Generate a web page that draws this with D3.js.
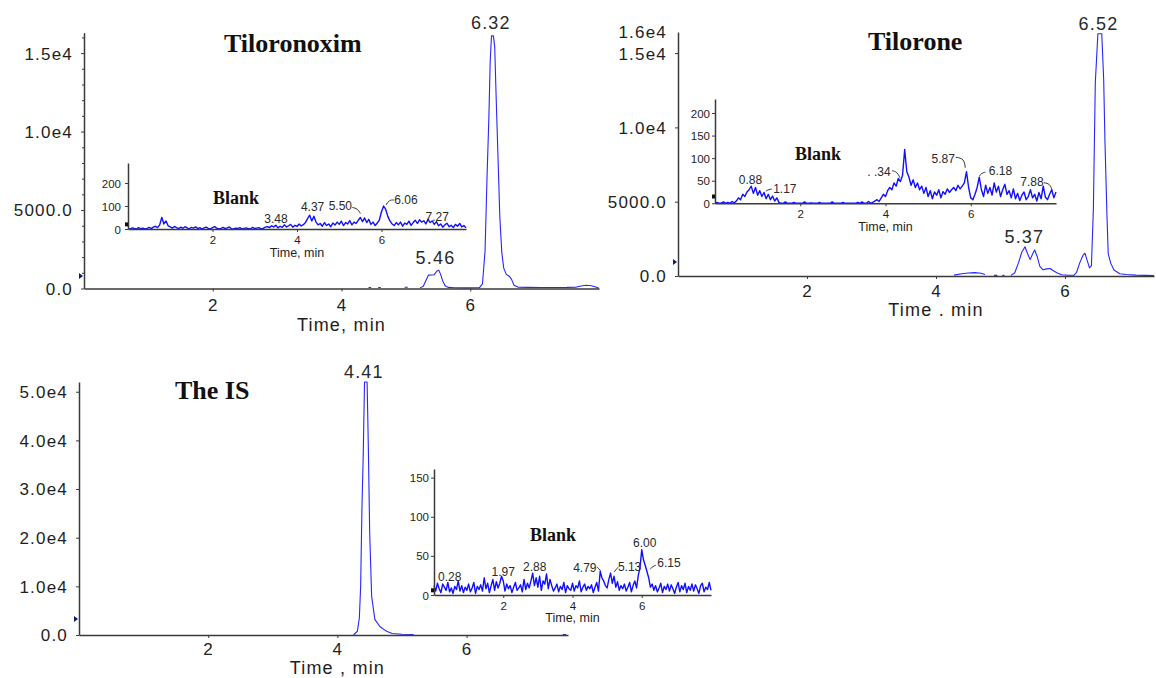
<!DOCTYPE html>
<html>
<head>
<meta charset="utf-8">
<script src="https://cdn.jsdelivr.net/npm/d3@7"></script>
<style>
  body { margin: 0; background: #fff; }
  svg { display: block; }
</style>
</head>
<body>
<svg id="chart" width="1156" height="678"></svg>
<script>
// ---- data ----

// Tiloronoxim, main trace (null = gap in the trace)
var tiloronoxTime = [4.42, 4.46, null, 4.57, 4.61, null, 4.98, 5.03, null,
  5.22, 5.27, 5.31, 5.35, 5.40, 5.44, 5.48, 5.51, 5.54, 5.57, 5.61, 5.66, 5.75, 5.85, 6.00,
  6.14, 6.19, 6.23, 6.26, 6.29, 6.31, 6.33, 6.36, 6.38, 6.40, 6.43, 6.46, 6.49, 6.52, 6.56,
  6.60, 6.64, 6.68, 6.74, 6.90, 7.10, 7.30, 7.50, 7.65, 7.72, 7.80, 7.88, 7.95, 8.00];
var tiloronoxSignal = [60, 60, null, 60, 60, null, 80, 80, null,
  40, 150, 500, 850, 860, 880, 1100, 1170, 900, 500, 180, 70, 50, 40, 40,
  45, 300, 2400, 7000, 11000, 14500, 16100, 16100, 15400, 12500, 8500, 4500, 2300, 1300, 900,
  800, 600, 200, 90, 70, 60, 65, 70, 90, 160, 210, 180, 90, 20];

// Tilorone, main trace
var tiloroneTime = [4.28, 4.40, 4.50, 4.60, 4.70, 4.76, null, 4.90, 4.95, null, 5.03, 5.06, null,
  5.16, 5.22, 5.28, 5.33, 5.38, 5.42, 5.46, 5.50, 5.53, 5.57, 5.61, 5.66, 5.72, 5.77, 5.82,
  5.88, 5.95, 6.05, 6.14, 6.18, 6.23, 6.28, 6.31, 6.34, 6.38, 6.41, 6.44, 6.47, 6.51, 6.57,
  6.60, 6.62, 6.65, 6.67, 6.71, 6.76, 6.85, 6.95, 7.10, 7.25, 7.38];
var tiloroneSignal = [60, 150, 200, 230, 180, 100, null, 40, 40, null, 40, 40, null,
  40, 200, 900, 1600, 1970, 1500, 1100, 1500, 1750, 1300, 650, 420, 480, 500, 350,
  200, 80, 50, 60, 250, 900, 1400, 1530, 1100, 550, 700, 4500, 13000, 16300, 16300,
  13200, 9000, 4200, 1500, 850, 400, 150, 100, 60, 40, 30];

// The IS, main trace
var isTime = [4.25, 4.31, 4.34, 4.36, 4.38, 4.40, 4.42, 4.46, 4.48, 4.50, 4.53, 4.58, 4.66,
  4.77, 4.85, 5.00, 5.18, null, 7.49, 7.54];
var isSignal = [0, 800, 3500, 10000, 26000, 37000, 52000, 52000, 38000, 21000, 8000, 3200, 1700,
  700, 300, 150, 100, null, 100, 100];

// Blank injections (insets), one reading every 0.05 min from 0 to 8 min
var blankStep = 0.05;
var blankTiloronox = [3, 0, 5, 2, 0, 6, 1, 4, 0, 3, 7, 2,
  8, 12, 6, 18, 50, 22, 35, 14,
  9, 4, 11, 6, 2, 8, 3, 10, 5, 1, 7, 4, 9, 2, 6, 0, 5, 8, 3, 1, 6, 10, 4, 0, 3, 7, 2, 5, 9, 1,
  0, 4, 2, 6, 0, 3, 5, 1, 0, 7, 2, 4, 6, 1, 3, 8,
  10, 6, 14, 9, 16, 5,
  12, 7, 18, 9, 14, 20, 8, 16, 11, 22, 13, 19,
  28, 45, 60, 35, 55, 30,
  18, 24, 12, 28, 15, 22, 10, 26, 17, 30,
  20, 34, 15, 28, 22, 36, 18, 30, 24,
  38, 50, 32, 48, 28, 42,
  20, 30, 15, 26, 40,
  75, 100, 85, 55,
  35, 22, 15, 28,
  18, 30, 12, 26, 20, 34, 16, 28,
  38, 24, 40, 30, 36, 22, 42, 28, 35, 20, 32,
  14, 22, 8, 18, 25, 10, 16, 6, 20, 12, 24, 9, 15, 5];
var blankTilorone = [0, 2, 0, 1, 3, 0, 2, 0, 4, 1,
  5, 12, 8, 20, 15, 25,
  30, 38, 22, 35, 18, 28,
  15, 24, 10, 20, 8, 16, 5, 12,
  2, 0, 0, 3, 0, 0, 0, 2, 0, 0, 0, 0, 3, 0, 0, 1, 0, 0, 0, 2, 0, 0, 0, 0, 0, 3, 0, 0, 0, 0,
  2, 0, 0, 0, 0, 0, 0, 2, 0, 3, 0, 0, 4, 0, 2, 5,
  8, 4, 12, 20, 15, 28, 35, 30,
  45, 38, 55, 48, 62, 119, 70, 58, 40, 52, 35, 45, 30, 38,
  22, 35, 15, 28, 10, 25, 18, 30, 12, 26, 20, 32, 24, 30,
  35, 28, 40, 32, 38, 45,
  70, 35, 12,
  8, 20, 35, 58,
  30, 15, 40, 22, 35, 18, 45, 25, 38, 15, 30, 42, 20, 28, 12, 32,
  10, 22, 6, 18, 25, 8, 15, 30, 12, 20, 5, 24, 10, 38, 14, 8, 20, 30, 12, 25];
var blankIS = [12, 5, 15, 8, 3, 14, 10, 6, 16, 4,
  9, 2, 11, 7, 18, 5, 12, 3, 10, 6,
  14, 4, 9, 16, 2, 11, 7, 13, 5, 22,
  8, 15, 3, 12, 20, 6, 17, 9, 15, 24,
  18, 5, 14, 8, 12, 3, 10, 16, 6, 9,
  13, 4, 20, 7, 15, 9, 18, 28, 12, 22,
  10, 24, 6, 18, 14, 27, 8, 20, 12, 5,
  9, 14, 4, 11, 7, 16, 3, 12, 8, 6,
  15, 5, 12, 9, 18, 4, 10, 14, 6, 11,
  8, 13, 3, 10, 16, 5, 30, 22, 18, 12,
  9, 20, 28, 15, 24, 10, 17, 6, 12, 8,
  14, 5, 10, 16, 4, 12, 18, 9, 25, 35,
  58, 45, 38, 30, 22, 10, 14, 6, 12, 4,
  9, 15, 3, 11, 7, 14, 5, 13, 8, 2,
  10, 16, 4, 12, 7, 15, 3, 11, 6, 14,
  5, 13, 8, 2, 12, 15, 4, 10, 7, 16, 6];

// Peak labels: text, retention time, height
var tiloronoxPeaks = [["6.32", 6.32, 16100], ["5.46", 5.46, 1170]];
var tiloronePeaks = [["6.52", 6.52, 16300], ["5.37", 5.37, 1970]];
var isPeaks = [["4.41", 4.41, 52000]];
var blankTiloronoxPeaks = [["3.48", 3.48, 14], ["4.37", 4.37, 60], ["5.50", 5.50, 50], ["6.06", 6.06, 100], ["7.27", 7.27, 30]];
var blankTiloronePeaks = [["0.88", 0.88, 38], ["1.17", 1.17, 15], [". .34", 4.34, 50], ["5.87", 5.87, 70], ["6.18", 6.18, 58], ["7.88", 7.88, 30]];
var blankISPeaks = [["0.28", 0.28, 14], ["1.97", 1.97, 25], ["2.88", 2.88, 28], ["4.79", 4.79, 30], ["5.13", 5.13, 28], ["6.00", 6.00, 58], ["6.15", 6.15, 38]];

// ---- drawing ----
var svg = d3.select("#chart");
var axisColor = "#3a3a3a";
var sans = "'Liberation Sans', Arial, sans-serif";
var serif = "'Liberation Serif', 'Times New Roman', serif";

var mainFmt = function(v) {
  if (v === 0) return "0.0";
  if (v === 5000) return "5000.0";
  return (v / 1e4).toFixed(1) + "e4";
};

function drawPanel(o) {
  var g = svg.append("g");
  var x = d3.scaleLinear().domain([0, o.xMax]).range([o.left, o.right]);
  var y = d3.scaleLinear().domain([0, o.yMax]).range([o.base, o.top]);

  var pts = o.time.map(function(t, i) { return [t, o.signal[i]]; });
  var line = d3.line()
      .defined(function(d) { return d[0] !== null && d[1] !== null; })
      .x(function(d) { return x(d[0]); })
      .y(function(d) { return y(d[1]); });

  g.append("path").datum(pts)
      .attr("d", line)
      .attr("fill", "none")
      .attr("stroke", o.color)
      .attr("stroke-width", o.traceWidth)
      .attr("stroke-linejoin", "round");

  // y axis
  var ya = g.append("g").attr("transform", "translate(" + o.left + ",0)")
      .call(d3.axisLeft(y).tickValues(o.yTicks).tickSize(3).tickSizeOuter(0).tickFormat(o.fmt));
  ya.selectAll("text").attr("x", -o.yGap).attr("dy", "0.35em");
  if (o.minor) {
    g.append("g").attr("transform", "translate(" + o.left + ",0)")
      .call(d3.axisLeft(y).tickValues(o.minor).tickSize(2).tickFormat(""))
      .select(".domain").remove();
  }

  // x axis
  var xa = g.append("g").attr("transform", "translate(0," + o.base + ")")
      .call(d3.axisBottom(x).tickValues([2, 4, 6]).tickSize(3).tickSizeOuter(0));
  xa.selectAll("text").attr("y", o.xTickY).attr("dy", "0.35em");

  g.selectAll(".domain").attr("stroke", axisColor).attr("stroke-width", o.axisWidth);
  g.selectAll(".tick line").attr("stroke", axisColor);
  g.selectAll(".tick text")
      .attr("fill", "#1e1e1e")
      .style("font-family", sans)
      .style("font-size", o.tickFont + "px")
      .style("letter-spacing", o.spacing + "px");

  g.append("text")
      .attr("x", x(4)).attr("y", o.base + o.xLabelY).attr("dy", "0.35em")
      .attr("text-anchor", "middle")
      .attr("fill", "#1e1e1e")
      .style("font-family", sans)
      .style("font-size", o.labelFont + "px")
      .style("letter-spacing", o.spacing + "px")
      .text(o.xLabel);

  // small start marker at the left of the baseline
  if (o.marker === "arrow") {
    var my = y(o.markerValue);
    g.append("path")
        .attr("d", "M" + (o.left - 5) + "," + (my - 3) + "L" + (o.left - 1) + "," + my + "L" + (o.left - 5) + "," + (my + 3) + "Z")
        .attr("fill", "#0d1a6e");
  } else if (o.marker === "square") {
    g.append("rect")
        .attr("x", o.left - 3).attr("y", y(o.markerValue) - 2)
        .attr("width", 3).attr("height", 4)
        .attr("fill", "#111");
  }

  return {g: g, x: x, y: y};
}

function addPeaks(p, peaks, offsets, font, spacing) {
  peaks.forEach(function(pk, i) {
    var off = offsets[i];
    var px = p.x(pk[1]), py = p.y(pk[2]);
    p.g.append("text")
        .attr("x", px + off[0]).attr("y", py + off[1]).attr("dy", "0.35em")
        .attr("text-anchor", "middle")
        .attr("fill", "#2a2a2a")
        .style("font-family", sans)
        .style("font-size", font + "px")
        .style("letter-spacing", spacing + "px")
        .text(pk[0]);
    if (off[2]) {
      p.g.append("path")
          .datum(off[2].map(function(d) { return [px + d[0], py + d[1]]; }))
          .attr("d", d3.line().curve(d3.curveBasis))
          .attr("fill", "none")
          .attr("stroke", "#333")
          .attr("stroke-width", 1);
    }
  });
}

function addTitle(text, x, y, size) {
  svg.append("text")
      .attr("x", x).attr("y", y).attr("dy", "0.35em")
      .attr("fill", "#111")
      .style("font-family", serif)
      .style("font-weight", "bold")
      .style("font-size", size + "px")
      .text(text);
}

var blankTimes = function(arr) { return arr.map(function(v, i) { return i * blankStep; }); };

var mainOpts = {
  fmt: mainFmt, yGap: 11, tickFont: 17, labelFont: 18, spacing: 1.2,
  color: "#2626ff", traceWidth: 1.1, axisWidth: 1.5, marker: "arrow"
};
var insetOpts = {
  fmt: d3.format("d"), xTickY: 10.5, xLabelY: 24, xLabel: "Time, min",
  tickFont: 11.5, labelFont: 12.5, spacing: 0, color: "#1010ff", traceWidth: 1.4,
  axisWidth: 1.5, marker: "square"
};

// ---- Tiloronoxim ----
var p1 = drawPanel(Object.assign({}, mainOpts, {
  time: tiloronoxTime, signal: tiloronoxSignal,
  xMax: 8, left: 84, right: 599, base: 288.5, top: 32.7, yMax: 16300,
  yTicks: [0, 5000, 10000, 15000],
  minor: [1000, 2000, 3000, 4000, 6000, 7000, 8000, 9000, 11000, 12000, 13000, 14000, 16000],
  xTickY: 17, xLabelY: 36, xLabel: "Time, min", markerValue: 800
}));
addPeaks(p1, tiloronoxPeaks, [[0, -13], [0, -12]], 18, 1.2);
addTitle("Tiloronoxim", 224, 43, 26);

var i1 = drawPanel(Object.assign({}, insetOpts, {
  time: blankTimes(blankTiloronox), signal: blankTiloronox,
  xMax: 8, left: 128, right: 466, base: 229, top: 163, yMax: 287,
  yTicks: [0, 100, 200], yGap: 7, markerValue: 20
}));
addPeaks(i1, blankTiloronoxPeaks, [
  [1, -7], [0, -8], [-20, -12, [[-8, -10], [-3, -9], [0, -4]]],
  [22, -6, [[10, -6], [5, -6], [2, -1]]], [2, -5]
], 12, 0);
addTitle("Blank", 213, 198, 18);

// ---- Tilorone ----
var p2 = drawPanel(Object.assign({}, mainOpts, {
  time: tiloroneTime, signal: tiloroneSignal,
  xMax: 7.38, left: 678, right: 1154, base: 276, top: 32, yMax: 16420,
  yTicks: [0, 5000, 10000, 15000, 16420],
  xTickY: 15, xLabelY: 34, xLabel: "Time . min", markerValue: 940
}));
p2.g.selectAll(".tick line").filter(function(d) { return d === 16420; }).remove();
addPeaks(p2, tiloronePeaks, [[0, -10], [0, -10]], 18, 1.2);
addTitle("Tilorone", 868, 41, 26);

var i2 = drawPanel(Object.assign({}, insetOpts, {
  time: blankTimes(blankTilorone), signal: blankTilorone,
  xMax: 8, left: 715, right: 1056, base: 203.3, top: 99, yMax: 231,
  yTicks: [0, 50, 100, 150, 200], yGap: 5, xTickY: 10.5, xLabelY: 23, markerValue: 15
}));
addPeaks(i2, blankTiloronePeaks, [
  [-2, -6], [20, -8, [[1, -5.5], [4, -7], [7, -7.5]]],
  [-21, -9, [[-8, -10], [-3, -9], [0, -3]]],
  [-22, -13, [[-9.5, -14.5], [-1, -13], [0, -4]]],
  [22, -6, [[7, -5], [3, -4], [1, -1]]],
  [-19, -8, [[-7, -7], [-1, -6], [1, 0]]]
], 12, 0);
addTitle("Blank", 795, 154, 18);

// ---- The IS ----
var p3 = drawPanel(Object.assign({}, mainOpts, {
  time: isTime, signal: isSignal,
  xMax: 7.57, left: 79, right: 568, base: 635, top: 382, yMax: 52000,
  yTicks: [0, 10000, 20000, 30000, 40000, 50000],
  xTickY: 14, xLabelY: 33, xLabel: "Time , min", markerValue: 3300
}));
addPeaks(p3, isPeaks, [[0, -10]], 18, 1.2);
addTitle("The IS", 175, 390, 26);

var i3 = drawPanel(Object.assign({}, insetOpts, {
  time: blankTimes(blankIS), signal: blankIS,
  xMax: 8, left: 434, right: 711, base: 595, top: 469, yMax: 161,
  yTicks: [0, 50, 100, 150], yGap: 5, xTickY: 10.5, xLabelY: 23, markerValue: 6
}));
addPeaks(i3, blankISPeaks, [
  [6, -7], [1, -4], [1, -6],
  [-15, -4, [[-3, -4.5], [-1, -3], [1, 0]]],
  [18, -6, [[2.5, -1], [4, -3], [6.5, -6]]],
  [3, -7],
  [22, -2, [[9, 0], [6, 1], [3, 4]]]
], 12, 0);
addTitle("Blank", 530, 535, 18);
</script>
</body>
</html>
